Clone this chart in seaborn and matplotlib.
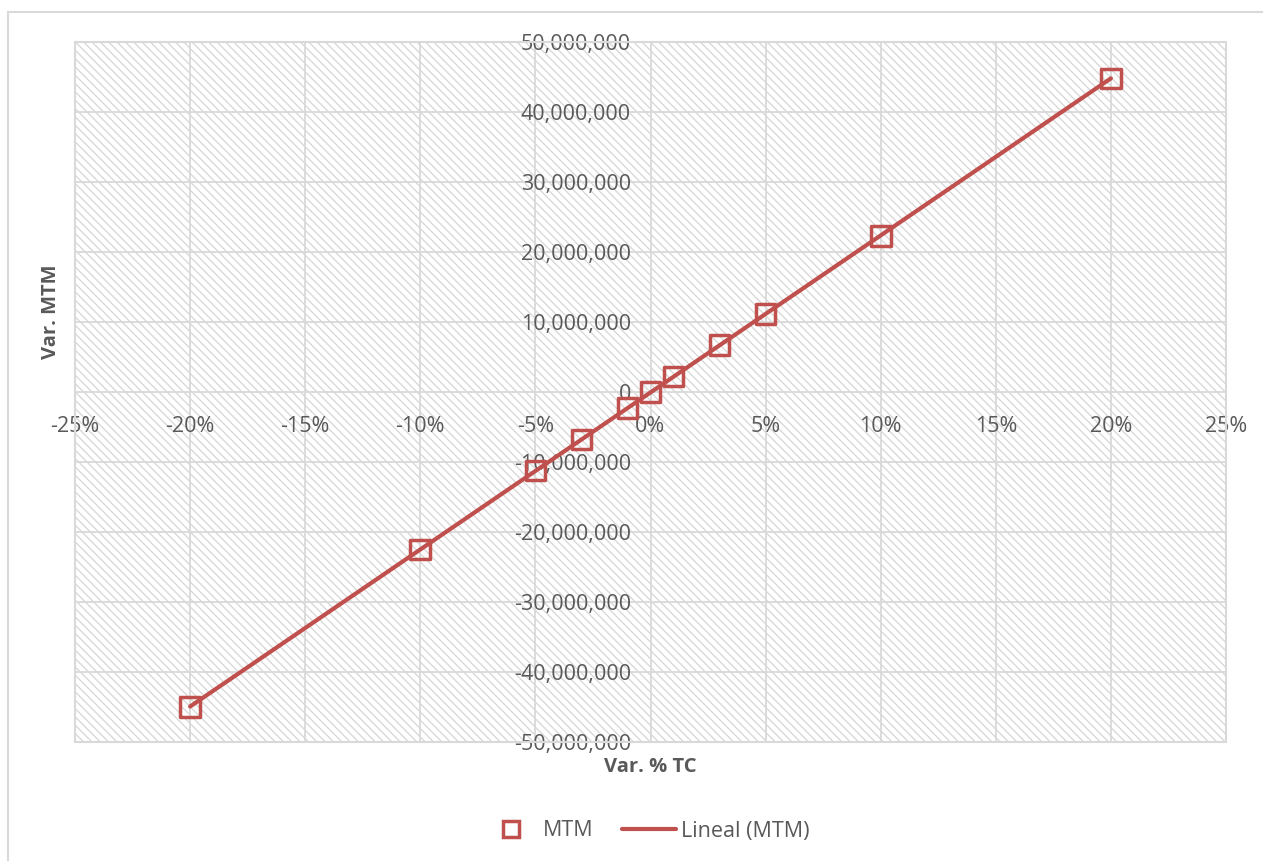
import matplotlib
matplotlib.use("Agg")
import matplotlib.pyplot as plt
import matplotlib.ticker as mticker
from matplotlib.lines import Line2D
from matplotlib.patches import Rectangle
import seaborn as sns
import pandas as pd

# sensitivity data: % change of exchange rate vs change of MTM
var_tc = [-0.20, -0.10, -0.05, -0.03, -0.01, 0.0, 0.01, 0.03, 0.05, 0.10, 0.20]
var_mtm = [-45000000, -22500000, -11200000, -6800000, -2300000, 0,
           2200000, 6700000, 11100000, 22300000, 44800000]
x_ticks = [-0.25, -0.20, -0.15, -0.10, -0.05, 0.0, 0.05, 0.10, 0.15, 0.20, 0.25]
y_ticks = list(range(-50000000, 50000001, 10000000))

red = "#c0504d"
grey_txt = "#595959"
grey_line = "#d9d9d9"

sns.set_style("white")
plt.rcParams['font.family'] = ['Open Sans', 'DejaVu Sans']
plt.rcParams['hatch.linewidth'] = 0.9

df = pd.DataFrame({"tc": var_tc, "mtm": var_mtm})

fig = plt.figure(figsize=(12.63, 8.61), dpi=100)
ax = fig.add_axes([75 / 1263, 1 - 742 / 861, 1151 / 1263, 700 / 861])

# hatched plot area
bg = Rectangle((0, 0), 1, 1, transform=ax.transAxes, facecolor="white",
               edgecolor="#d6d6d6", hatch="\\\\\\\\", lw=0, zorder=0)
ax.add_patch(bg)

sns.regplot(data=df, x="tc", y="mtm", scatter=False, ci=None, ax=ax,
            line_kws=dict(color=red, lw=3, zorder=3), truncate=True)
sns.scatterplot(data=df, x="tc", y="mtm", ax=ax, marker="s", s=200,
                facecolor="none", edgecolor=red, linewidth=2.5, zorder=4)

ax.set_xlim(-0.25, 0.25)
ax.set_ylim(-50000000, 50000000)
ax.set_xticks(x_ticks)
ax.set_yticks(y_ticks)
ax.xaxis.set_major_formatter(mticker.FuncFormatter(lambda v, p: f"{round(v * 100):d}%"))
ax.yaxis.set_major_formatter(mticker.FuncFormatter(lambda v, p: f"{int(v):,}"))
ax.grid(True, color=grey_line, lw=1.3, zorder=1)
ax.set_axisbelow(True)

# axes cross at zero like in Excel
ax.spines['left'].set_position(('data', 0))
ax.spines['bottom'].set_position(('data', 0))
for s in ['left', 'bottom', 'top', 'right']:
    ax.spines[s].set_visible(False)
ax.add_patch(Rectangle((0, 0), 1, 1, transform=ax.transAxes, fill=False,
                       edgecolor=grey_line, lw=1.5, zorder=2, clip_on=False))

ax.tick_params(axis='x', length=0, pad=17, labelsize=15.5, labelcolor=grey_txt)
ax.tick_params(axis='y', length=0, pad=14, labelsize=15.5, labelcolor=grey_txt)

ax.set_xlabel("Var. % TC", fontsize=14.5, fontweight="bold", color=grey_txt)
ax.set_ylabel("Var. MTM", fontsize=14.5, fontweight="bold", color=grey_txt)
ax.xaxis.set_label_coords(0.5, -0.021)
ax.yaxis.set_label_coords(-0.012, 0.615)

handles = [
    Line2D([], [], marker="s", ls="none", markersize=11, markerfacecolor="white",
           markeredgecolor=red, markeredgewidth=2.5),
    Line2D([], [], color=red, lw=3),
]
fig.legend(handles, ["MTM", "Lineal (MTM)"], loc="center", bbox_to_anchor=(0.512, 1 - 831 / 861),
           ncol=2, frameon=False, fontsize=15.5, labelcolor=grey_txt,
           handlelength=2.5, columnspacing=1.3, handletextpad=0.25)

# outer chart border
fig.add_artist(Line2D([8 / 1263, 8 / 1263], [0, 1 - 12 / 861], color=grey_line, lw=1.5))
fig.add_artist(Line2D([8 / 1263, 1], [1 - 12 / 861, 1 - 12 / 861], color=grey_line, lw=1.5))

fig.savefig("out.png", dpi=100)
